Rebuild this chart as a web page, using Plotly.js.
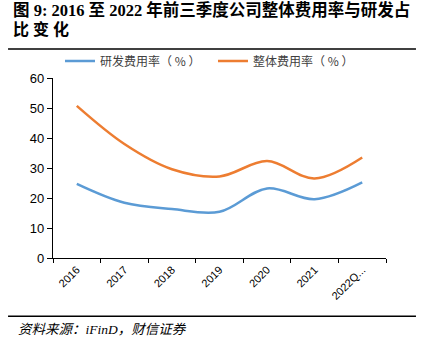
<!DOCTYPE html>
<html><head><meta charset="utf-8">
<script src="https://cdn.plot.ly/plotly-3.0.1.min.js"></script>
<style>html,body{margin:0;padding:0;background:#fff}#c{width:427px;height:351px}</style>
</head><body><div id="c"></div>
<script>
const categories = ["2016","2017","2018","2019","2020","2021","2022Q..."];
const rdRate = [24.7, 18.4, 16.3, 15.4, 23.2, 19.6, 25.2];
const totalRate = [50.7, 38.0, 29.6, 27.2, 32.3, 26.5, 33.5];
const seriesNames = ["研发费用率（ % ）", "整体费用率（ % ）"];
const yTicks = [0,10,20,30,40,50,60];

const traces = [
  {x: categories, y: rdRate, name: seriesNames[0], type: "scatter", mode: "lines",
   line: {color: "#5B9BD5", width: 2.5, shape: "spline", smoothing: 1}},
  {x: categories, y: totalRate, name: seriesNames[1], type: "scatter", mode: "lines",
   line: {color: "#ED7D31", width: 2.5, shape: "spline", smoothing: 1}}
];

const layout = {
  width: 427, height: 351,
  margin: {l: 53, r: 41, t: 78, b: 92.5},
  paper_bgcolor: "#fff", plot_bgcolor: "#fff",
  font: {family: "Liberation Sans, Arial, sans-serif", color: "#000"},
  showlegend: true,
  legend: {orientation: "h", x: 0.021, y: 1.094, xanchor: "left", yanchor: "middle",
           font: {family: "Noto Sans CJK SC, sans-serif", size: 12, color: "#404040"},
           entrywidth: 108, entrywidthmode: "pixels",
           itemwidth: 30, tracegroupgap: 0, bgcolor: "rgba(0,0,0,0)"},
  xaxis: {type: "category", showgrid: false, zeroline: false, showline: true,
          linecolor: "#000", linewidth: 1.2, ticks: "outside", ticklen: 4, tickcolor: "#000",
          tickson: "boundaries", tickangle: -45,
          tickfont: {family: "Liberation Sans, Arial, sans-serif", size: 11, color: "#000"},
          range: [-0.5, 6.5], fixedrange: true},
  yaxis: {range: [0, 60], tickvals: yTicks, showgrid: false, zeroline: false, showline: true,
          linecolor: "#000", linewidth: 1.2, ticks: "outside", ticklen: 5, tickcolor: "#000",
          tickfont: {family: "Liberation Sans, Arial, sans-serif", size: 13, color: "#000"},
          fixedrange: true},
  annotations: [
    {xref: "paper", yref: "paper", x: -0.125, y: 1.378, xanchor: "left", yanchor: "middle",
     text: "<b>图 9: 2016 至 2022 年前三季度公司整体费用率与研发占</b>", showarrow: false,
     font: {family: "Liberation Serif, Noto Sans CJK SC, serif", size: 16.5, color: "#000"}},
    {xref: "paper", yref: "paper", x: -0.125, y: 1.272, xanchor: "left", yanchor: "middle",
     text: "<b>比 变 化</b>", showarrow: false,
     font: {family: "Liberation Serif, Noto Sans CJK SC, serif", size: 16, color: "#000"}},
    {xref: "paper", yref: "paper", x: -0.11, y: -0.396, xanchor: "left", yanchor: "middle",
     text: "<i>资料来源：iFinD，财信证券</i>", showarrow: false,
     font: {family: "Liberation Serif, Noto Sans CJK SC, serif", size: 13.5, color: "#000"}}
  ],
  shapes: [
    {type: "line", xref: "paper", yref: "paper", x0: -0.135, x1: 1.09, y0: 1.1607, y1: 1.1607,
     line: {color: "#000", width: 1.5}},
    {type: "line", xref: "paper", yref: "paper", x0: -0.135, x1: 1.09, y0: -0.324, y1: -0.324,
     line: {color: "#000", width: 1.5}}
  ]
};
Plotly.newPlot("c", traces, layout, {displayModeBar: false, staticPlot: true});
</script></body></html>
